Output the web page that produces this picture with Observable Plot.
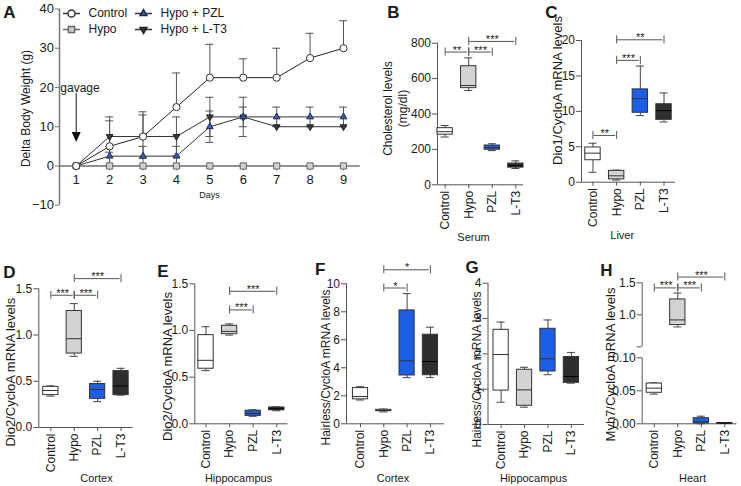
<!DOCTYPE html>
<html><head><meta charset="utf-8">
<script src="https://cdn.jsdelivr.net/npm/d3@7"></script>
<script src="https://cdn.jsdelivr.net/npm/@observablehq/plot@0.6"></script>
<style>
html,body{margin:0;padding:0;background:#fff;}
#root{position:relative;width:741px;height:486px;overflow:hidden;background:#fff;}
#root svg{position:absolute;left:0;top:0;background:none;}
</style></head><body><div id="root"></div>
<script>
// ---------------- DATA ----------------
// Panel A: delta body weight (g), mean and error per day
const days = [1, 2, 3, 4, 5, 6, 7, 8, 9];
const weightSeries = ["Control", "Hypo", "Hypo + PZL", "Hypo + L-T3"];
const weightControl = [0, 5, 7.5, 15, 22.5, 22.5, 22.5, 27.5, 30];
const weightControlErr = [0, 7.5, 6.3, 8.7, 8.5, 4.8, 7.5, 6.3, 7];
const weightHypo = [0, 0, 0, 0, 0, 0, 0, 0, 0];
const weightHypoErr = [0, 0, 0, 0, 0, 0, 0, 0, 0];
const weightPzl = [0, 2.5, 2.5, 2.5, 10, 12.5, 12.5, 12.5, 12.5];
const weightPzlErr = [0, 2.5, 2.5, 2.5, 4, 5, 2.5, 2.5, 2.5];
const weightLt3 = [0, 7.5, 7.5, 7.5, 12.5, 12.5, 10, 10, 10];
const weightLt3Err = [0, 4, 5.5, 5, 5, 2.5, 0, 0, 0];
const weightTicks = [-10, 0, 10, 20, 30, 40];
const gavage = [{day: 1, from: 18.5, to: 6.1}];

// Box panels: groups and [min, q1, median, q3, max]
const groups = ["Control", "Hypo", "PZL", "L-T3"];
const serumCholesterol = [[270, 283, 300, 320, 335], [533, 546, 561, 670, 717], [193, 198, 210, 222, 232], [92, 97, 108, 120, 135]];
const serumSig = [["Control", "Hypo", 750, "**"], ["Hypo", "PZL", 750, "***"], ["Hypo", "L-T3", 810, "***"]];
const cholTicks = [0, 200, 400, 600, 800];

const liverDio1 = [[1.4, 3.1, 4.1, 4.9, 5.5], [0.3, 0.4, 0.9, 1.6, 1.7], [9.4, 9.8, 11.8, 13.1, 16.4], [8.5, 8.8, 10.1, 11.0, 12.6]];
const liverSig = [["Control", "Hypo", 6.6, "**"], ["Hypo", "PZL", 17.2, "***"], ["Hypo", "L-T3", 20.1, "**"]];
const dio1Ticks = [0, 5, 10, 15, 20];

const cortexDio2 = [[0.34, 0.35, 0.40, 0.44, 0.45], [0.77, 0.80, 0.96, 1.26, 1.34], [0.28, 0.31, 0.41, 0.47, 0.50], [0.35, 0.35, 0.45, 0.61, 0.64]];
const cortexDio2Sig = [["Control", "Hypo", 1.43, "***"], ["Hypo", "PZL", 1.43, "***"], ["Hypo", "L-T3", 1.61, "***"]];
const hippoDio2 = [[0.57, 0.59, 0.68, 0.95, 1.04], [0.95, 0.96, 0.99, 1.05, 1.07], [0.08, 0.085, 0.11, 0.14, 0.15], [0.14, 0.145, 0.16, 0.175, 0.18]];
const hippoDio2Sig = [["Hypo", "PZL", 1.22, "***"], ["Hypo", "L-T3", 1.42, "***"]];
const dio2Ticks = [0, 0.5, 1.0, 1.5];

const cortexHr = [[1.7, 1.75, 1.95, 2.55, 2.65], [0.85, 0.9, 0.95, 1.0, 1.05], [3.3, 3.45, 4.5, 8.1, 9.3], [3.3, 3.47, 4.45, 6.36, 6.9]];
const cortexHrSig = [["Hypo", "PZL", 9.7, "*"], ["Hypo", "L-T3", 11.0, "*"]];
const hrCortexTicks = [0, 2, 4, 6, 8, 10];
const hippoHr = [[0.63, 0.96, 1.98, 2.68, 2.90], [0.49, 0.53, 0.98, 1.55, 1.62], [1.41, 1.50, 1.86, 2.71, 2.96], [1.17, 1.18, 1.36, 1.91, 2.04]];
const hrHippoTicks = [0, 1, 2, 3, 4];

const heartMyh7 = [[0.045, 0.047, 0.054, 0.061, 0.062], [0.81, 0.84, 0.92, 1.24, 1.34], [0, 0.0005, 0.003, 0.0085, 0.0115], [0.0005, 0.0007, 0.001, 0.0012, 0.0015]];
const heartSig = [["Control", "Hypo", 1.42, "***"], ["Hypo", "PZL", 1.42, "***"], ["Hypo", "L-T3", 1.59, "***"]];
const myh7UpperTicks = [0.5, 1.0, 1.5];
const myh7LowerTicks = [0, 0.05, 0.1];

// ---------------- STYLE ----------------
const W = 741, H = 486;
const FONT = '"Liberation Sans", Arial, Helvetica, sans-serif';
const AXIS = "#555", TEXT = "#1a1a1a", BOXSTROKE = "#333", WHISK = "#444";
const groupFill = ["#ffffff", "#d3d3d3", "#1c5fe6", "#2e2e2e"];
const root = document.getElementById("root");

function mount(frame, options, marks) {
  const svg = Plot.plot({
    width: W, height: H,
    marginLeft: frame.left, marginRight: W - frame.right,
    marginTop: frame.top, marginBottom: H - frame.bottom,
    ...options,
    color: {type: "identity"},
    style: {position: "absolute", left: "0px", top: "0px", background: "none", fontFamily: FONT,
            fontSize: "12px", color: TEXT, overflow: "visible", maxWidth: "none"},
    marks
  });
  root.appendChild(svg);
}
function label(frame, str, at, opts = {}) {
  return Plot.text([str], {text: d => d, frameAnchor: "top-left", dx: at[0] - frame.left, dy: at[1] - frame.top,
    textAnchor: "middle", lineAnchor: "middle", fill: TEXT, ...opts});
}

// ---------------- PANEL A ----------------
{
  const frame = {left: 59, right: 359.7, top: 8.5, bottom: 204.7};
  const xDomain = [0.5, 9.5];
  const vals = [weightControl, weightHypo, weightPzl, weightLt3];
  const errs = [weightControlErr, weightHypoErr, weightPzlErr, weightLt3Err];
  const symbols = ["circle", "square", "triangle", "triangle"];
  const rotates = [0, 0, 0, 180];
  const sizes = [3.6, 3.5, 2.5, 2.5];
  const fills = ["#ffffff", "#d0d0d0", "#3d5daa", "#3a3a3a"];
  const strokes = ["#333", "#666", "#1e2c55", "#222"];
  const lineColors = ["#222", "#888", "#333", "#333"];
  const rows = [];
  weightSeries.forEach((s, k) => days.forEach((d, j) => {
    const m = vals[k][j], e = errs[k][j];
    rows.push({series: s, k, day: d, mean: m, err: e, lo: k === 0 ? m : m - e, hi: m + e});
  }));
  const errRows = rows.filter(d => d.err > 0);
  const hline = {draw(ctx) { ctx.moveTo(-8.5, 0); ctx.lineTo(8.5, 0); }};
  const head = {draw(ctx) { ctx.moveTo(-4.5, -10); ctx.lineTo(4.5, -10); ctx.lineTo(0, 0); ctx.closePath(); }};
  const marks = [
    Plot.ruleX([xDomain[0]], {stroke: "#777", strokeWidth: 1.5}),
    Plot.axisY({ticks: weightTicks, tickSize: 4, tickPadding: 1.5, stroke: "#777", fill: TEXT, fontSize: 13, label: null}),
    Plot.ruleY([0], {stroke: "#777", strokeWidth: 1.5}),
    Plot.ruleX(days, {x: d => d, y1: d => 0, y2: d => 0, insetBottom: -5, stroke: "#777"}),
    Plot.text(days, {x: d => d, y: d => 0, dy: 14, text: d => String(d), fontSize: 13, fill: TEXT}),
    label(frame, "Days", [209, 195], {fontSize: 9}),
    label(frame, "Delta Body Weight (g)", [26, 108], {rotate: -90, fontSize: 12}),
    label(frame, "A", [9, 12], {fontSize: 17, fontWeight: "bold"}),
    label(frame, "gavage", [79.5, 87.3], {fontSize: 12}),
    Plot.ruleX(gavage, {x: "day", y1: "from", y2: "to", insetBottom: 8, stroke: "#111"}),
    Plot.dot(gavage, {x: "day", y: "to", symbol: head, fill: "#111", stroke: "none"}),
    Plot.ruleX(errRows, {x: "day", y1: "lo", y2: "hi", stroke: "#555"}),
    Plot.ruleY(errRows, {y: "hi", x1: "day", x2: "day", insetLeft: -4, insetRight: -4, stroke: "#555"}),
    Plot.ruleY(errRows.filter(d => d.lo < d.mean), {y: "lo", x1: "day", x2: "day", insetLeft: -4, insetRight: -4, stroke: "#555"})
  ];
  [1, 3, 2, 0].forEach(k => marks.push(Plot.line(rows.filter(d => d.k === k), {x: "day", y: "mean", stroke: lineColors[k], strokeWidth: 1})));
  [1, 3, 2, 0].forEach(k => marks.push(Plot.dot(rows.filter(d => d.k === k), {x: "day", y: "mean", symbol: symbols[k], rotate: rotates[k], r: sizes[k], fill: fills[k], stroke: strokes[k], strokeWidth: 1})));
  // legend
  weightSeries.forEach((s, k) => {
    const col = Math.floor(k / 2), row = k % 2;
    const mx = 12 + col * 72, my = 4.5 + row * 16;
    marks.push(
      Plot.dot([s], {frameAnchor: "top-left", dx: mx, dy: my, symbol: hline, stroke: k === 1 ? "#666" : "#333", fill: "none"}),
      Plot.dot([s], {frameAnchor: "top-left", dx: mx, dy: my, symbol: symbols[k], rotate: rotates[k], r: sizes[k], fill: fills[k], stroke: strokes[k]}),
      Plot.text([s], {text: d => d, frameAnchor: "top-left", dx: mx + 17, dy: my, textAnchor: "start", lineAnchor: "middle", fontSize: 12, fill: TEXT})
    );
  });
  mount(frame, {x: {type: "linear", domain: xDomain, axis: null}, y: {domain: [-10, 40]}}, marks);
}

// ---------------- BOX PANELS ----------------
const HW = 0.325;
function boxMarks(cfg, frame, yDomain, yTicks, yFormat, stats, sig, keep, xAxis) {
  const xDomain = [-(cfg.po + HW), groups.length - 1 + cfg.po + HW];
  const rows = stats.map((s, i) => ({i, min: s[0], q1: s[1], med: s[2], q3: s[3], max: s[4], fill: groupFill[i]})).filter(keep);
  const idx = g => groups.indexOf(g);
  const sigRows = (sig || []).map(([a, b, y, t]) => ({a: idx(a), b: idx(b), y, t}));
  const marks = [
    Plot.ruleX([xDomain[0]], {stroke: AXIS}),
    Plot.axisY({ticks: yTicks, tickFormat: yFormat, tickSize: 5, tickPadding: 1.5, stroke: AXIS, fill: TEXT, fontSize: 12, label: null})
  ];
  if (xAxis) marks.push(
    Plot.ruleY([yDomain[0]], {stroke: AXIS}),
    Plot.axisX({ticks: groups.map((g, i) => i), tickFormat: i => groups[i], tickRotate: -90, tickSize: 4, tickPadding: 2,
      stroke: AXIS, fill: TEXT, fontSize: 12, label: null})
  );
  marks.push(
    Plot.ruleX(rows, {x: "i", y1: "min", y2: "q1", stroke: WHISK}),
    Plot.ruleX(rows, {x: "i", y1: "q3", y2: "max", stroke: WHISK}),
    Plot.ruleY(rows, {y: "max", x1: "i", x2: "i", insetLeft: -4, insetRight: -4, stroke: WHISK}),
    Plot.ruleY(rows, {y: "min", x1: "i", x2: "i", insetLeft: -4, insetRight: -4, stroke: WHISK}),
    Plot.rect(rows, {x1: d => d.i - HW, x2: d => d.i + HW, y1: "q1", y2: "q3", fill: "fill", stroke: BOXSTROKE}),
    Plot.ruleY(rows, {y: "med", x1: d => d.i - HW, x2: d => d.i + HW, stroke: d => d.i === 3 ? "#000" : BOXSTROKE}),
    Plot.ruleY(sigRows, {y: "y", x1: "a", x2: "b", insetLeft: 1, insetRight: 1, stroke: AXIS}),
    Plot.ruleX(sigRows, {x: "a", y1: "y", y2: "y", insetTop: -4, insetBottom: -4, stroke: AXIS}),
    Plot.ruleX(sigRows, {x: "b", y1: "y", y2: "y", insetTop: -4, insetBottom: -4, stroke: AXIS}),
    Plot.text(sigRows, {x: d => (d.a + d.b) / 2, y: "y", text: "t", dy: -2, fontSize: 11, lineAnchor: "middle", fill: TEXT})
  );
  return {marks, xDomain};
}
function boxPanel(cfg) {
  const {marks, xDomain} = boxMarks(cfg, cfg.frame, cfg.yDomain, cfg.yTicks, cfg.yFormat, cfg.stats, cfg.sig, () => true, true);
  marks.push(
    label(cfg.frame, cfg.ylabel, cfg.ylabelAt, {rotate: -90, fontSize: cfg.ylabelSize || 13, lineHeight: 1.25}),
    label(cfg.frame, cfg.xlabel, cfg.xlabelAt, {fontSize: 11}),
    label(cfg.frame, cfg.letter, cfg.letterAt, {fontSize: 17, fontWeight: "bold"})
  );
  mount(cfg.frame, {x: {type: "linear", domain: xDomain}, y: {domain: cfg.yDomain}}, marks);
}
const int = d => String(d);
const f1 = d => d.toFixed(1);

boxPanel({frame: {left: 437, right: 523, top: 42.7, bottom: 184.3}, po: 0, yDomain: [0, 800], yTicks: cholTicks, yFormat: int,
  stats: serumCholesterol, sig: serumSig, ylabel: "Cholesterol levels\n(mg/dl)", ylabelAt: [394, 108], ylabelSize: 12,
  xlabel: "Serum", xlabelAt: [473, 237], letter: "B", letterAt: [393, 12.5]});
boxPanel({frame: {left: 581, right: 675, top: 40, bottom: 181.7}, po: 0.16, yDomain: [0, 20], yTicks: dio1Ticks, yFormat: int,
  stats: liverDio1, sig: liverSig, ylabel: "Dio1/CycloA mRNA levels", ylabelAt: [556, 90],
  xlabel: "Liver", xlabelAt: [621.7, 235], letter: "C", letterAt: [551, 12.5]});
boxPanel({frame: {left: 38.3, right: 132.6, top: 288.3, bottom: 427}, po: 0.19, yDomain: [0, 1.5], yTicks: dio2Ticks, yFormat: f1,
  stats: cortexDio2, sig: cortexDio2Sig, ylabel: "Dio2/CycloA mRNA levels", ylabelAt: [9, 371.7],
  xlabel: "Cortex", xlabelAt: [96, 478.3], letter: "D", letterAt: [9, 272.5]});
boxPanel({frame: {left: 194.3, right: 287.5, top: 283.3, bottom: 423.3}, po: 0.15, yDomain: [0, 1.5], yTicks: dio2Ticks, yFormat: f1,
  stats: hippoDio2, sig: hippoDio2Sig, ylabel: "Dio2/CycloA mRNA levels", ylabelAt: [166.7, 366],
  xlabel: "Hippocampus", xlabelAt: [238, 478], letter: "E", letterAt: [162.5, 271.5]});
boxPanel({frame: {left: 346, right: 443.9, top: 283.3, bottom: 423.3}, po: 0.276, yDomain: [0, 10], yTicks: hrCortexTicks, yFormat: int,
  stats: cortexHr, sig: cortexHrSig, ylabel: "Hairless/CycloA mRNA levels", ylabelAt: [325, 367], ylabelSize: 12,
  xlabel: "Cortex", xlabelAt: [392.5, 478], letter: "F", letterAt: [319.7, 269.5]});
boxPanel({frame: {left: 487.5, right: 584, top: 282.7, bottom: 424}, po: 0.235, yDomain: [0, 4], yTicks: hrHippoTicks, yFormat: int,
  stats: hippoHr, sig: [], ylabel: "Hairless/CycloA mRNA levels", ylabelAt: [475.5, 369], ylabelSize: 12,
  xlabel: "Hippocampus", xlabelAt: [533, 478], letter: "G", letterAt: [471.5, 267]});

// ---------------- PANEL H (broken axis) ----------------
{
  const cfg = {po: 0.19};
  const upper = {left: 641.7, right: 736.4, top: 282.3, bottom: 346.3};
  const lower = {left: 641.7, right: 736.4, top: 357.3, bottom: 423.3};
  const up = boxMarks(cfg, upper, [0.5, 1.5], myh7UpperTicks, d => d === 0.5 ? "" : d.toFixed(1), heartMyh7, heartSig, d => d.q3 > 0.1, false);
  up.marks.push(label(upper, "H", [606, 270], {fontSize: 17, fontWeight: "bold"}));
  mount(upper, {x: {type: "linear", domain: up.xDomain, axis: null}, y: {domain: [0.5, 1.5]}}, up.marks);
  const lo = boxMarks(cfg, lower, [0, 0.1], myh7LowerTicks, d => d.toFixed(2), heartMyh7, [], d => d.q3 <= 0.1, true);
  lo.marks.push(
    label(lower, "Myh7/CycloA mRNA levels", [610.5, 364], {rotate: -90, fontSize: 13}),
    label(lower, "Heart", [692, 478], {fontSize: 11})
  );
  mount(lower, {x: {type: "linear", domain: lo.xDomain}, y: {domain: [0, 0.1]}}, lo.marks);
}
</script></body></html>
